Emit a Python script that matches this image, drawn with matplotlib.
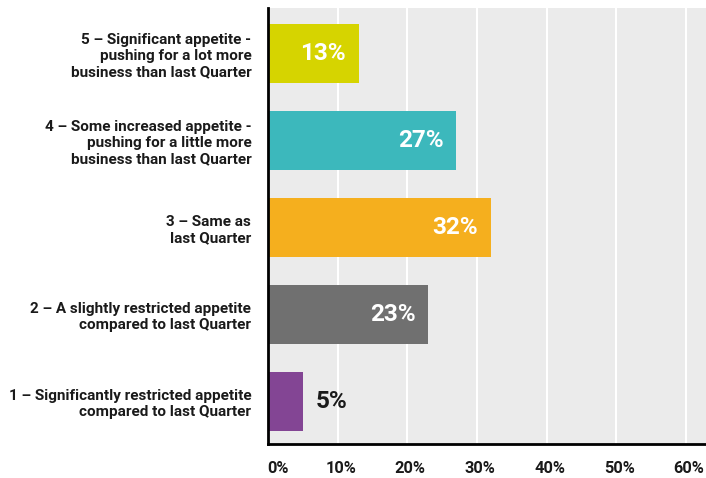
import matplotlib
matplotlib.use("Agg")
import matplotlib.pyplot as plt
from matplotlib.transforms import ScaledTranslation

plt.rcParams['font.family'] = ['Roboto', 'DejaVu Sans']

categories = [
    "1 – Significantly restricted appetite\ncompared to last Quarter",
    "2 – A slightly restricted appetite\ncompared to last Quarter",
    "3 – Same as\nlast Quarter",
    "4 – Some increased appetite -\npushing for a little more\nbusiness than last Quarter",
    "5 – Significant appetite -\npushing for a lot more\nbusiness than last Quarter",
]
values = [5, 23, 32, 27, 13]
colors = ["#834594", "#707070", "#F5AF1E", "#3CB8BC", "#D6D400"]
tick_values = [0, 10, 20, 30, 40, 50, 60]
tick_labels = ["0%", "10%", "20%", "30%", "40%", "50%", "60%"]

fig = plt.figure(figsize=(7.06, 4.78), dpi=100)
ax = fig.add_axes([268 / 706, 34 / 478, 438 / 706, 436 / 478])
ax.set_facecolor("#EBEBEB")

ypos = list(range(len(categories)))
ax.barh(ypos, values, height=0.68, color=colors, zorder=3)

for y, v in zip(ypos, values):
    if v >= 10:
        ax.text(v - 1.8, y, f"{v}%", ha="right", va="center", color="white",
                fontsize=17.5, fontweight="bold", zorder=4)
    else:
        ax.text(v + 1.8, y, f"{v}%", ha="left", va="center", color="#1a1a1a",
                fontsize=17.5, fontweight="bold", zorder=4)

ax.set_xlim(0, 62.9)
ax.set_ylim(-0.49, 4.52)
ax.set_xticks(tick_values)
ax.set_xticklabels(tick_labels, fontsize=11.8, fontweight="bold", color="#1a1a1a")
ax.set_yticks(ypos)
ax.set_yticklabels(categories, fontsize=11, fontweight="bold", color="#1a1a1a",
                   linespacing=1.2)
ax.tick_params(axis="both", length=0)
ax.tick_params(axis="x", pad=12)
ax.tick_params(axis="y", pad=12)

# nudge x tick labels slightly right; first label sits inside the axis start
shift = ScaledTranslation(3 / 100, 0, fig.dpi_scale_trans)
for i, lab in enumerate(ax.get_xticklabels()):
    if i == 0:
        lab.set_ha("left")
        lab.set_transform(lab.get_transform() + ScaledTranslation(-1 / 100, 0, fig.dpi_scale_trans))
    else:
        lab.set_transform(lab.get_transform() + shift)

ax.grid(axis="x", color="white", linewidth=1.5, zorder=1)
ax.grid(axis="y", visible=False)
for side in ("top", "right"):
    ax.spines[side].set_visible(False)
for side in ("left", "bottom"):
    ax.spines[side].set_color("black")
    ax.spines[side].set_linewidth(2)
    ax.spines[side].set_zorder(5)

fig.savefig("out.png", dpi=100)
